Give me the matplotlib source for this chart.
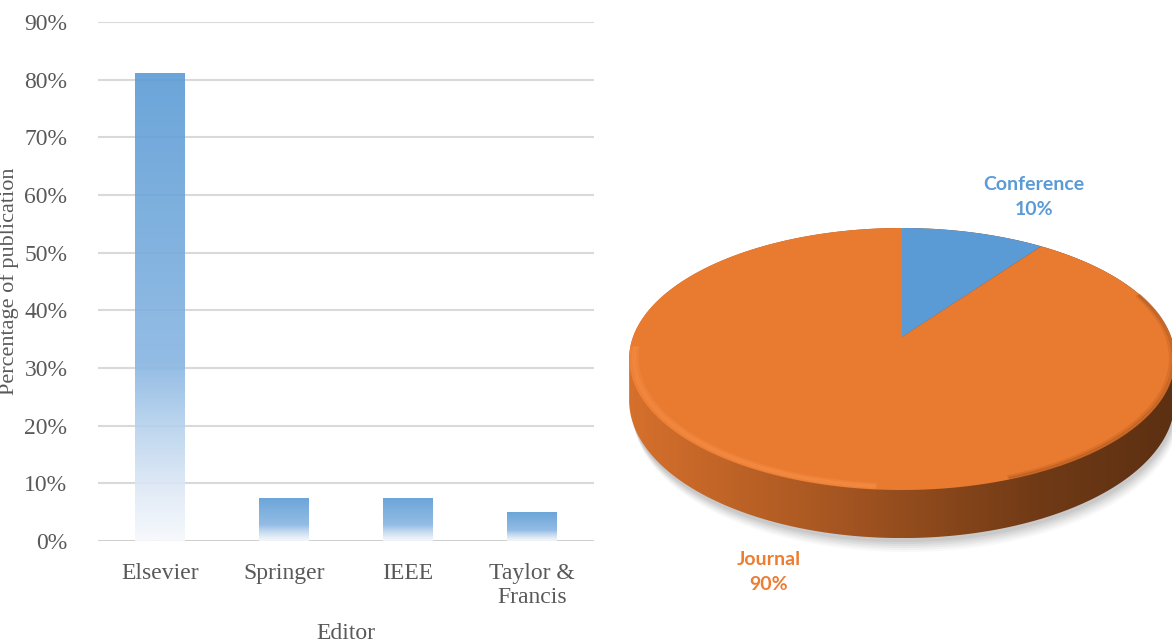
import numpy as np
import matplotlib
matplotlib.use("Agg")
import matplotlib.pyplot as plt
from matplotlib.colors import LinearSegmentedColormap
from matplotlib.patches import Polygon

# bar chart data
editors = ["Elsevier", "Springer", "IEEE", "Taylor &\nFrancis"]
share = [0.81, 0.073, 0.073, 0.049]
yticks = [0.0, 0.1, 0.2, 0.3, 0.4, 0.5, 0.6, 0.7, 0.8, 0.9]

# pie data
pie_labels = ["Conference", "Journal"]
pie_values = [10, 90]
pie_colors = ["#5B9BD5", "#E97B30"]

W, H = 1172, 643
fig = plt.figure(figsize=(W / 100, H / 100), dpi=100)

# ---------------- left: bar chart ----------------
serif = ["Liberation Serif", "DejaVu Serif"]
grey = "#595959"
ax = fig.add_axes([98 / W, 102 / H, 496 / W, 519 / H])
ax.set_yticks(yticks)
ax.set_yticklabels([f"{int(round(v * 100))}%" for v in yticks],
                   fontfamily=serif, fontsize=17, color=grey)
ax.set_xticks(range(len(editors)))
ax.set_xticklabels(editors, fontfamily=serif, fontsize=17, color=grey,
                   linespacing=1.15, va="top")
ax.tick_params(length=0, pad=22, axis="y")
ax.tick_params(length=0, pad=16, axis="x")
for sp in ax.spines.values():
    sp.set_visible(False)
ax.grid(axis="y", color="#D9D9D9", linewidth=1.5, zorder=0)
ax.set_axisbelow(True)
ax.axhline(0, color="#D0D0D0", linewidth=2, zorder=1)
ax.set_ylabel("Percentage of publication", fontfamily=serif, fontsize=16,
              color=grey, labelpad=4)
ax.set_xlabel("Editor", fontfamily=serif, fontsize=17, color=grey,
              labelpad=11)

# gradient from top (solid blue) to bottom (almost white)
bar_cmap = LinearSegmentedColormap.from_list("bar", [
    (0.0, (91 / 255, 155 / 255, 213 / 255)),
    (0.62, (135 / 255, 181 / 255, 226 / 255)),
    (0.76, (183 / 255, 210 / 255, 237 / 255)),
    (0.9, (224 / 255, 234 / 255, 246 / 255)),
    (1.0, (246 / 255, 249 / 255, 253 / 255)),
])
grad = np.linspace(0, 1, 256).reshape(-1, 1)
bar_w = 0.40
for i, v in enumerate(share):
    ax.imshow(grad, cmap=bar_cmap, aspect="auto", origin="upper",
              extent=(i - bar_w / 2, i + bar_w / 2, 0, v), alpha=0.9,
              zorder=2, interpolation="bilinear")
ax.set_xlim(-0.5, len(editors) - 0.5)
ax.set_ylim(0, 0.9)
ax.yaxis.set_label_coords(-0.16, 0.5)

# ---------------- right: 3D-looking pie ----------------
pax = fig.add_axes([0, 0, 1, 1])
pax.set_xlim(0, W)
pax.set_ylim(H, 0)
pax.axis("off")
pax.patch.set_visible(False)
pax.set_zorder(-1)

cx, cy = 902, 337          # apex of the pie on screen
rx, ry = 269, 127.3        # horizontal / vertical radius
k = 0.168                  # perspective strength
depth = 40                 # thickness


def proj(theta, z=0.0, r=1.0):
    x, y = r * np.sin(theta), r * np.cos(theta)
    d = 1 + k * y
    return cx + rx * x / d, cy - ry * y / d + z / d


def hull(pts):
    pts = sorted(map(tuple, pts))
    def cross(o, a, b):
        return (a[0] - o[0]) * (b[1] - o[1]) - (a[1] - o[1]) * (b[0] - o[0])
    lower, upper = [], []
    for p in pts:
        while len(lower) >= 2 and cross(lower[-2], lower[-1], p) <= 0:
            lower.pop()
        lower.append(p)
    for p in reversed(pts):
        while len(upper) >= 2 and cross(upper[-2], upper[-1], p) <= 0:
            upper.pop()
        upper.append(p)
    return np.array(lower[:-1] + upper[:-1])


th = np.linspace(0, 2 * np.pi, 400)
top = np.column_stack(proj(th))
bot = np.column_stack(proj(th, depth))
silhouette = hull(np.vstack([top, bot]))

# soft shadow
for i, a in enumerate(np.linspace(0.025, 0.05, 6)):
    off = 14 - 2 * i
    sh = silhouette + np.array([off * 0.3, off])
    pax.add_patch(Polygon(sh, closed=True, facecolor="#000000", alpha=a,
                          edgecolor="none", zorder=1))

# side with horizontal gradient
side_cmap = LinearSegmentedColormap.from_list("side", [
    (0.0, (214 / 255, 112 / 255, 44 / 255)),
    (0.35, (170 / 255, 88 / 255, 34 / 255)),
    (0.75, (112 / 255, 58 / 255, 22 / 255)),
    (1.0, (92 / 255, 48 / 255, 18 / 255)),
])
sil_patch = Polygon(silhouette, closed=True, facecolor="none",
                    edgecolor="none", zorder=2)
pax.add_patch(sil_patch)
xs = silhouette[:, 0]
ys = silhouette[:, 1]
img = pax.imshow(np.linspace(0, 1, 256).reshape(1, -1), cmap=side_cmap,
                 aspect="auto", extent=(xs.min(), xs.max(), ys.max(), ys.min()),
                 zorder=2, interpolation="bilinear")
img.set_clip_path(sil_patch)

# top surface wedges (clockwise from 12 o'clock)
bounds = np.concatenate([[0], np.cumsum(pie_values)]) / sum(pie_values) * 2 * np.pi
for j in range(len(pie_values)):
    t = np.linspace(bounds[j], bounds[j + 1], 200)
    px, py = proj(t)
    poly = np.vstack([[cx, cy], np.column_stack([px, py])])
    pax.add_patch(Polygon(poly, closed=True, facecolor=pie_colors[j],
                          edgecolor="none", zorder=3))

# bevel: light band on the near-left rim, dark band on the right rim
for r, a in [(0.992, 0.2), (0.982, 0.35), (0.972, 0.2)]:
    t = np.linspace(np.radians(185), np.radians(265), 120)
    hx, hy = proj(t, r=r)
    pax.plot(hx, hy, color="#FF9A55", lw=2.5, alpha=a, zorder=4)
for r, a in [(0.995, 0.35), (0.985, 0.2)]:
    t = np.linspace(np.radians(70), np.radians(160), 120)
    hx, hy = proj(t, r=r)
    pax.plot(hx, hy, color="#9A4A18", lw=2.5, alpha=a, zorder=4)

# data labels
sans = ["Lato", "DejaVu Sans"]
pax.text(1034, 197, f"{pie_labels[0]}\n{pie_values[0]}%", ha="center",
         va="center", fontfamily=sans, fontweight="bold", fontsize=14,
         color=pie_colors[0], linespacing=1.6, zorder=5)
pax.text(769, 572, f"{pie_labels[1]}\n{pie_values[1]}%", ha="center",
         va="center", fontfamily=sans, fontweight="bold", fontsize=14,
         color="#ED7D31", linespacing=1.6, zorder=5)

fig.savefig("out.png", dpi=100)
